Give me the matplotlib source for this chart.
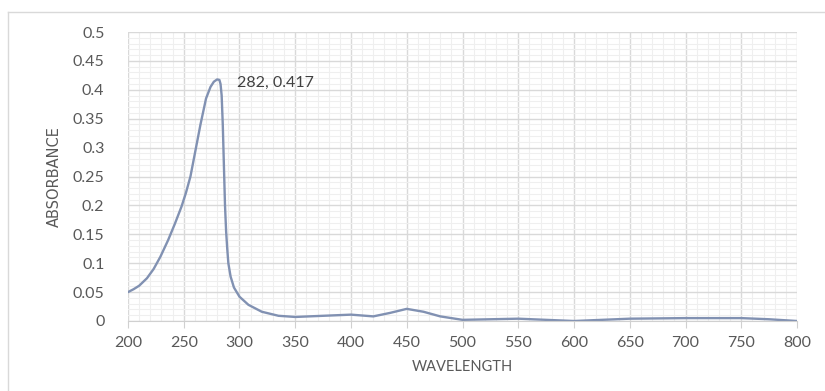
import matplotlib.pyplot as plt
from matplotlib.lines import Line2D
from matplotlib.ticker import MultipleLocator

wavelength = [200, 205, 210, 217, 223, 229, 236, 242, 248, 252, 256, 260, 265, 270,
              274, 277, 280, 282, 283, 284, 285, 286, 287, 288, 289, 290, 292, 295,
              300, 308, 320, 335, 350, 375, 400, 420, 435, 450, 465, 480, 500, 525,
              550, 575, 600, 625, 650, 700, 750, 775, 800]
absorbance = [0.05, 0.055, 0.061, 0.074, 0.09, 0.111, 0.14, 0.168, 0.198, 0.222, 0.25,
              0.29, 0.34, 0.385, 0.405, 0.414, 0.418, 0.417, 0.41, 0.39, 0.34, 0.27,
              0.2, 0.155, 0.125, 0.1, 0.077, 0.058, 0.042, 0.028, 0.016, 0.009, 0.007,
              0.009, 0.011, 0.008, 0.014, 0.021, 0.016, 0.008, 0.002, 0.003, 0.004,
              0.002, 0.0, 0.002, 0.004, 0.005, 0.005, 0.003, 0.0]
peak_label = '282, 0.417'

fig = plt.figure(figsize=(8.25, 3.91), dpi=100)
ax = fig.add_axes([128 / 825, 1 - 321 / 391, 669 / 825, 289 / 391])

ax.plot(wavelength, absorbance, color='#8191b2', linewidth=1.7,
        solid_joinstyle='round', solid_capstyle='round')

ax.set_xlim(200, 800)
ax.set_ylim(0, 0.5)
ax.xaxis.set_major_locator(MultipleLocator(50))
ax.xaxis.set_minor_locator(MultipleLocator(10))
ax.yaxis.set_minor_locator(MultipleLocator(0.01))
ax.set_yticks([0, 0.05, 0.1, 0.15, 0.2, 0.25, 0.3, 0.35, 0.4, 0.45, 0.5])
ax.set_yticklabels(['0', '0.05', '0.1', '0.15', '0.2', '0.25', '0.3', '0.35', '0.4', '0.45', '0.5'])

ax.grid(which='major', color='#d9d9d9', linewidth=1.0)
ax.grid(which='minor', color='#efefef', linewidth=0.8)
ax.set_axisbelow(True)

for side in ['top', 'right', 'left']:
    ax.spines[side].set_visible(False)
ax.spines['bottom'].set_color('#d0d0d0')

ax.tick_params(axis='x', which='major', length=5, color='#d0d0d0', labelsize=11.5,
               labelcolor='#595959', pad=6)
ax.tick_params(axis='y', which='major', length=0, labelsize=11.5, labelcolor='#595959', pad=17)
ax.tick_params(which='minor', length=0)
for lab in ax.get_xticklabels() + ax.get_yticklabels():
    lab.set_family('Lato')

ax.set_xlabel('WAVELENGTH', fontsize=10.5, color='#595959', family='Lato', labelpad=7)
ax.set_ylabel('ABSORBANCE', fontsize=10.5, color='#595959',
              family=['Liberation Sans Narrow', 'DejaVu Sans'], labelpad=8)

ax.annotate(peak_label, xy=(282, 0.417), xytext=(13, -2), textcoords='offset points',
            fontsize=11.5, color='#404040', family='Lato', va='center')

# outer chart border (top and left edges visible)
fig.add_artist(Line2D([8 / 825, 1], [1 - 12 / 391] * 2, color='#d9d9d9', linewidth=1,
                      transform=fig.transFigure))
fig.add_artist(Line2D([8 / 825] * 2, [0, 1 - 12 / 391], color='#d9d9d9', linewidth=1,
                      transform=fig.transFigure))

plt.savefig('out.png', dpi=100)
